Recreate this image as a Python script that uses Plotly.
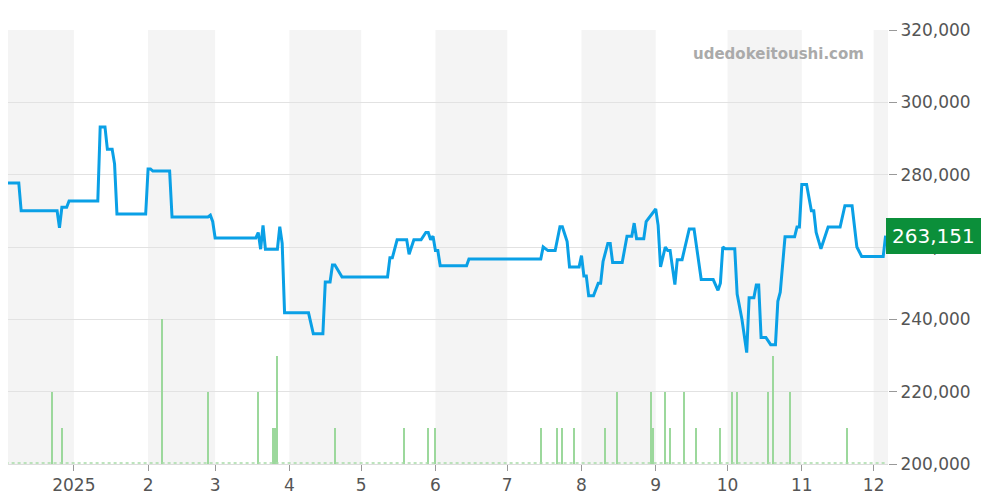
import plotly.graph_objects as go

# price line (date, yen)
price_dates = [
    "2024-12-01", "2024-12-09", "2024-12-10", "2024-12-25", "2024-12-26", "2024-12-27", "2024-12-29",
    "2024-12-30", "2025-01-11", "2025-01-12", "2025-01-14", "2025-01-15", "2025-01-17", "2025-01-18",
    "2025-01-19", "2025-01-31", "2025-02-01", "2025-02-02", "2025-02-03", "2025-02-10", "2025-02-11",
    "2025-02-26", "2025-02-27", "2025-02-28", "2025-03-01", "2025-03-18", "2025-03-19", "2025-03-20",
    "2025-03-21", "2025-03-22", "2025-03-27", "2025-03-28", "2025-03-29", "2025-03-30", "2025-04-09",
    "2025-04-11", "2025-04-15", "2025-04-16", "2025-04-18", "2025-04-19", "2025-04-20", "2025-04-22",
    "2025-04-23", "2025-05-12", "2025-05-13", "2025-05-14", "2025-05-16", "2025-05-20", "2025-05-21",
    "2025-05-23", "2025-05-26", "2025-05-28", "2025-05-29", "2025-05-30", "2025-05-31", "2025-06-01",
    "2025-06-02", "2025-06-03", "2025-06-14", "2025-06-15", "2025-07-15", "2025-07-16", "2025-07-18",
    "2025-07-21", "2025-07-23", "2025-07-24", "2025-07-26", "2025-07-27", "2025-07-31", "2025-08-01",
    "2025-08-02", "2025-08-03", "2025-08-04", "2025-08-06", "2025-08-08", "2025-08-09", "2025-08-10",
    "2025-08-12", "2025-08-13", "2025-08-14", "2025-08-18", "2025-08-20", "2025-08-22", "2025-08-23",
    "2025-08-24", "2025-08-27", "2025-08-28", "2025-09-01", "2025-09-02", "2025-09-03", "2025-09-05",
    "2025-09-06", "2025-09-07", "2025-09-09", "2025-09-10", "2025-09-12", "2025-09-15", "2025-09-17",
    "2025-09-19", "2025-09-20", "2025-09-21", "2025-09-25", "2025-09-27", "2025-09-28", "2025-09-29",
    "2025-09-30", "2025-10-04", "2025-10-05", "2025-10-07", "2025-10-09", "2025-10-10", "2025-10-12",
    "2025-10-13", "2025-10-14", "2025-10-15", "2025-10-17", "2025-10-19", "2025-10-21", "2025-10-22",
    "2025-10-23", "2025-10-25", "2025-10-29", "2025-10-30", "2025-10-31", "2025-11-01", "2025-11-03",
    "2025-11-05", "2025-11-06", "2025-11-07", "2025-11-09", "2025-11-12", "2025-11-17", "2025-11-19",
    "2025-11-22", "2025-11-24", "2025-11-26", "2025-12-05", "2025-12-06",
]
price_values = [
    277700, 277700, 270000, 270000, 265300, 271000, 271000,
    272700, 272700, 293200, 293200, 287000, 287000, 283000,
    269100, 269100, 281600, 281600, 281000, 281000, 268300,
    268300, 268800, 267000, 262500, 262500, 264000, 259400,
    266000, 259400, 259400, 265600, 261000, 241800, 241800,
    236000, 236000, 250300, 250300, 255000, 255000, 253000,
    251700, 251700, 257000, 257000, 262000, 262000, 258000,
    262000, 262000, 264000, 264000, 262000, 263000, 259000,
    259000, 254800, 254800, 256700, 256700, 260000, 259000,
    259000, 265600, 265600, 261500, 254500, 254500, 257600,
    252000, 252000, 246500, 246500, 250000, 250000, 256000,
    261000, 261000, 255700, 255700, 263000, 263000, 266600,
    262300, 262300, 267000, 270500, 266000, 254500, 260000,
    259000, 259000, 249600, 256500, 256500, 265000, 265000,
    256000, 251000, 251000, 251000, 248000, 250000, 260000,
    259500, 259500, 247000, 240000, 230800, 246000, 246000,
    249500, 249500, 235000, 235000, 233000, 233000, 245000,
    247500, 262800, 262800, 265500, 265500, 277300, 277300,
    270000, 270000, 264000, 259500, 265500, 265500, 271400,
    271400, 260000, 257400, 257400, 263151,
]

# trade counts per day
vol_dates = [
    "2024-12-23", "2024-12-27", "2025-02-07", "2025-02-26", "2025-03-19", "2025-03-25", "2025-03-26",
    "2025-03-27", "2025-04-20", "2025-05-19", "2025-05-29", "2025-06-01", "2025-07-15", "2025-07-22",
    "2025-07-24", "2025-07-29", "2025-08-11", "2025-08-16", "2025-08-30", "2025-08-31", "2025-09-05",
    "2025-09-07", "2025-09-13", "2025-09-18", "2025-09-28", "2025-10-03", "2025-10-05", "2025-10-18",
    "2025-10-20", "2025-10-27", "2025-11-20",
]
vol_values = [2, 1, 4, 2, 2, 1, 1, 3, 1, 1, 1, 1, 1, 1, 1, 1, 1, 2, 2, 1, 2, 1, 2, 1, 1, 2, 2, 2, 3, 2, 1]

month_ticks = ["2025-01-01", "2025-02-01", "2025-03-01", "2025-04-01", "2025-05-01", "2025-06-01",
               "2025-07-01", "2025-08-01", "2025-09-01", "2025-10-01", "2025-11-01", "2025-12-01"]
month_labels = ["2025", "2", "3", "4", "5", "6", "7", "8", "9", "10", "11", "12"]
shaded = [("2024-12-01", "2025-01-01"), ("2025-02-01", "2025-03-01"), ("2025-04-01", "2025-05-01"),
          ("2025-06-01", "2025-07-01"), ("2025-08-01", "2025-09-01"), ("2025-10-01", "2025-11-01"),
          ("2025-12-01", "2025-12-07")]

fig = go.Figure()

fig.add_trace(go.Scatter(
    x=["2024-12-01", "2025-12-06"], y=[0.03, 0.03], yaxis="y2", mode="lines",
    line=dict(color="#a8dca8", width=1.5, dash="dot"), hoverinfo="skip"))
fig.add_trace(go.Bar(
    x=vol_dates, y=vol_values, yaxis="y2", width=0.5 * 86400000,
    marker=dict(color="#9cd89c", line=dict(width=0))))
fig.add_trace(go.Scatter(
    x=price_dates, y=price_values, mode="lines",
    line=dict(color="#0aa0e6", width=3)))

shapes = []
for a, b in shaded:
    shapes.append(dict(type="rect", xref="x", yref="paper", x0=a, x1=b, y0=0, y1=1,
                       fillcolor="#f4f4f4", line=dict(width=0), layer="below"))

fig.update_layout(
    width=992, height=492,
    margin=dict(l=0, r=112, t=22, b=36),
    paper_bgcolor="white", plot_bgcolor="white",
    showlegend=False, bargap=0,
    shapes=shapes,
    xaxis=dict(range=["2024-12-04 12:00", "2025-12-07"], tickvals=month_ticks, ticktext=month_labels,
               ticks="outside", ticklen=6, tickcolor="#999", showgrid=False, automargin=False,
               tickfont=dict(family="DejaVu Sans", size=17, color="#555"),
               showline=True, linecolor="#ddd"),
    yaxis=dict(side="right", range=[200000, 320000], dtick=20000, tickformat=",",
               ticks="outside", ticklen=8, tickcolor="#999", gridcolor="#e2e2e2", automargin=False,
               tickfont=dict(family="DejaVu Sans", size=17, color="#555")),
    yaxis2=dict(overlaying="y", range=[0, 12], visible=False),
    annotations=[
        dict(text="udedokeitoushi.com", xref="paper", yref="paper", x=0.975, y=0.97,
             xanchor="right", yanchor="top", showarrow=False,
             font=dict(family="DejaVu Sans", size=15, color="#aaa", weight="bold")),
        dict(text="263,151", xref="paper", yref="y", x=1.0, y=263151, xanchor="left",
             yanchor="middle", showarrow=False, bgcolor="#0b8f3a", bordercolor="#0b8f3a",
             borderpad=5, xshift=-2, font=dict(family="DejaVu Sans", size=20, color="white")),
    ],
)

fig.write_html("out.html")
